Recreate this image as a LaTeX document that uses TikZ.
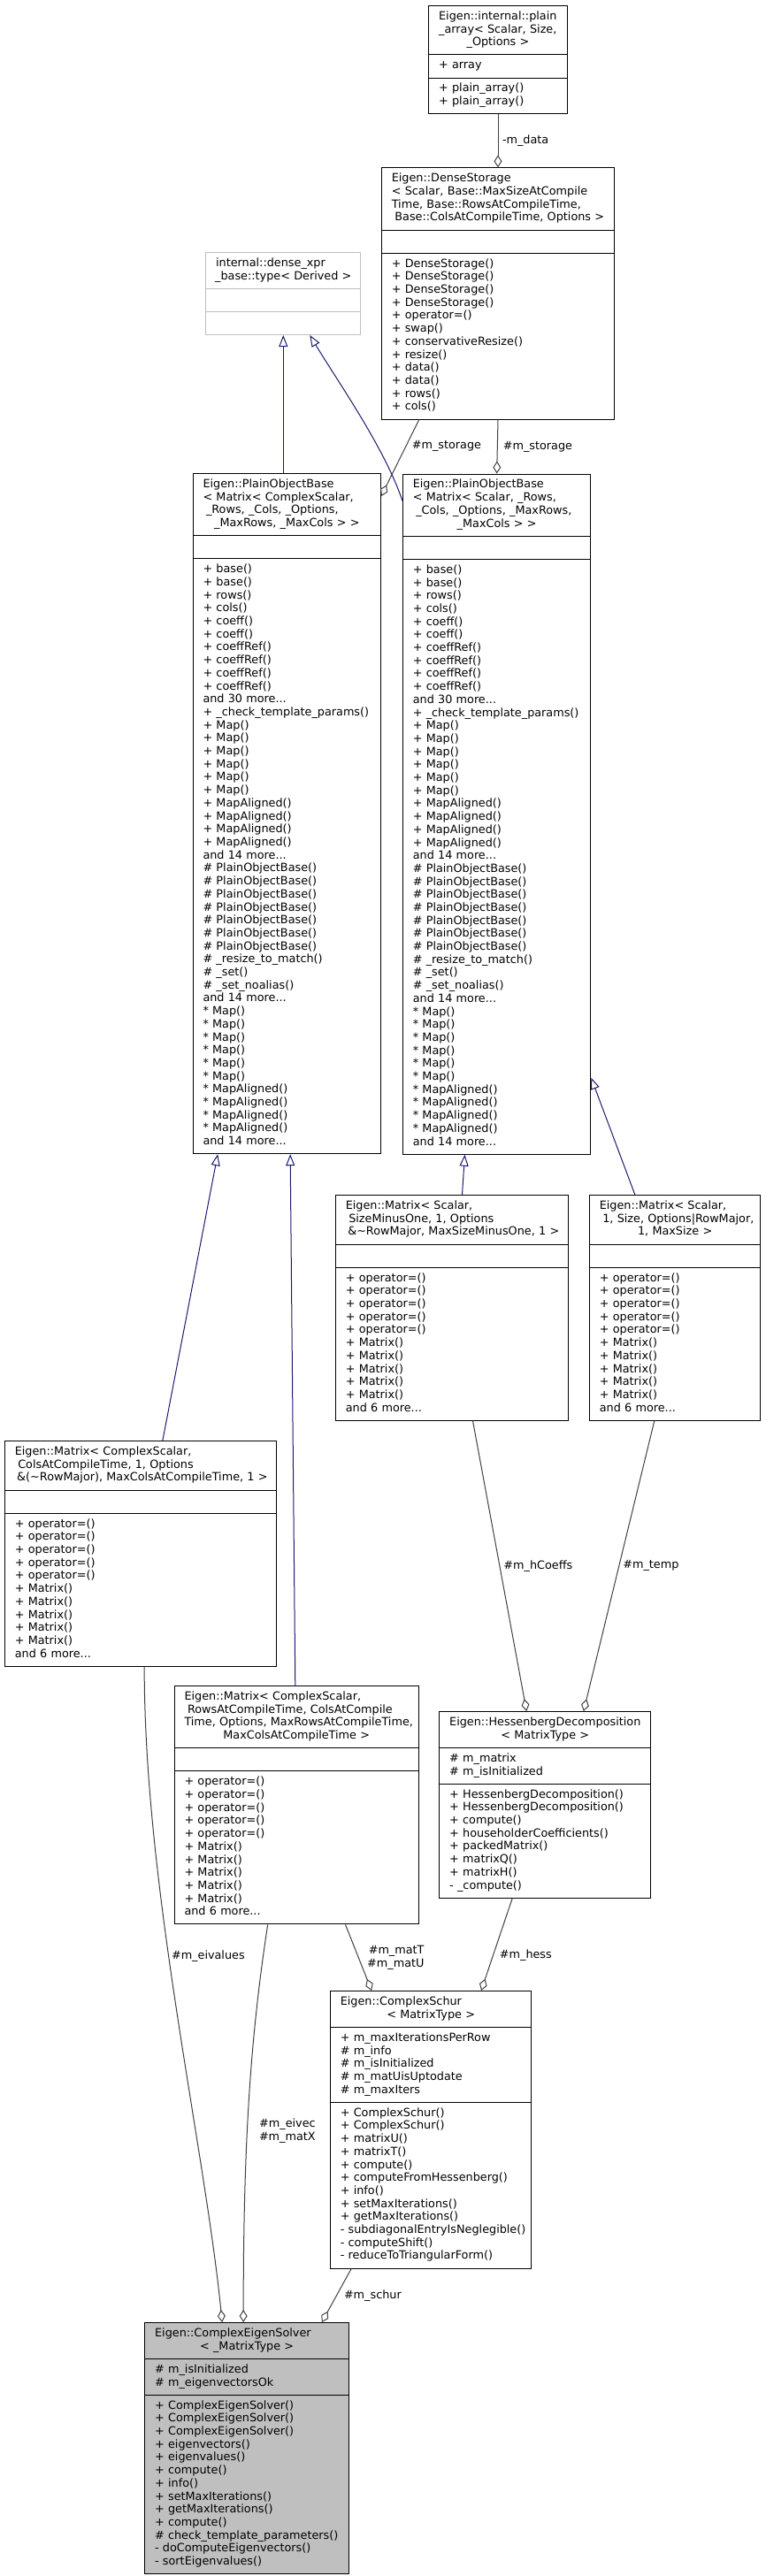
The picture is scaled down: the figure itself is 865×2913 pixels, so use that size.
\documentclass[tikz,border=0pt]{standalone}
\usepackage{fontspec}
\setmainfont{DejaVu Sans}
\usetikzlibrary{arrows.meta,shapes.multipart}

\definecolor{edgegrey}{HTML}{404040}
\definecolor{inhblue}{HTML}{191970}
\definecolor{extgrey}{HTML}{BFBFBF}

% last title line is centred, the others stay left
\newcommand\ctr[1]{\makebox[\linewidth]{#1}}

\newcommand\pobmembers{%
+ base()\\+ base()\\+ rows()\\+ cols()\\+ coeff()\\+ coeff()\\%
+ coeffRef()\\+ coeffRef()\\+ coeffRef()\\+ coeffRef()\\and 30 more...\\%
+ \_check\_template\_params()\\%
+ Map()\\+ Map()\\+ Map()\\+ Map()\\+ Map()\\+ Map()\\%
+ MapAligned()\\+ MapAligned()\\+ MapAligned()\\+ MapAligned()\\and 14 more...\\%
\# PlainObjectBase()\\\# PlainObjectBase()\\\# PlainObjectBase()\\\# PlainObjectBase()\\%
\# PlainObjectBase()\\\# PlainObjectBase()\\\# PlainObjectBase()\\%
\# \_resize\_to\_match()\\\# \_set()\\\# \_set\_noalias()\\and 14 more...\\%
{}* Map()\\{}* Map()\\{}* Map()\\{}* Map()\\{}* Map()\\{}* Map()\\%
{}* MapAligned()\\{}* MapAligned()\\{}* MapAligned()\\{}* MapAligned()\\and 14 more...}

\newcommand\matmembers{%
+ operator=()\\+ operator=()\\+ operator=()\\+ operator=()\\+ operator=()\\%
+ Matrix()\\+ Matrix()\\+ Matrix()\\+ Matrix()\\+ Matrix()\\and 6 more...}

\begin{document}
\begin{tikzpicture}[x=1pt, y=-1pt,
    every node/.append style={font=\fontsize{12.8}{14.7}\selectfont},
    cls/.style={draw, line width=1pt, rectangle split, rectangle split parts=3,
      anchor=north west, inner xsep=11.3pt, inner ysep=5.2pt,
      execute at begin node={\rightskip=-30pt\relax\strut},
      execute at end node={\strut}},
    lbl/.style={inner sep=0pt, align=right, text=black},
    aggr/.style={edgegrey, line width=1pt, -{Diamond[open, length=14pt, width=9pt]}},
    inh/.style={inhblue, line width=1pt, -{Triangle[open, length=13pt, width=10pt]}}]
\useasboundingbox (0,0) rectangle (865,2913);

% classes
\node[cls, text width=133.8pt] (plainarr) at (484.3,5.9)
  {Eigen::internal::plain\\\_array< Scalar, Size,\\\ctr{\_Options >}%
   \nodepart{second}+ array%
   \nodepart{third}+ plain\_array()\\+ plain\_array()};
\node[cls, text width=240.4pt] (dstor) at (431,189.4)
  {Eigen::DenseStorage\\< Scalar, Base::MaxSizeAtCompile\\Time, Base::RowsAtCompileTime,\\\ctr{\hspace*{3.5pt}Base::ColsAtCompileTime, Options >}%
   \nodepart{second}%
   \nodepart{third}+ DenseStorage()\\+ DenseStorage()\\+ DenseStorage()\\+ DenseStorage()\\+ operator=()\\+ swap()\\+ conservativeResize()\\+ resize()\\+ data()\\+ data()\\+ rows()\\+ cols()};
\node[cls, draw=extgrey, text width=152.4pt] (densexpr) at (232.3,285)
  {internal::dense\_xpr\\\ctr{\_base::type< Derived >}%
   \nodepart{second}%
   \nodepart{third}};
\node[cls, text width=189.7pt] (pobC) at (217.7,535)
  {Eigen::PlainObjectBase\\< Matrix< ComplexScalar,\\\hspace*{3.5pt}\_Rows, \_Cols, \_Options,\\\ctr{\_MaxRows, \_MaxCols > >}%
   \nodepart{second}%
   \nodepart{third}\pobmembers};
\node[cls, text width=189.7pt] (pobS) at (455,535.5)
  {Eigen::PlainObjectBase\\< Matrix< Scalar, \_Rows,\\\hspace*{3.5pt}\_Cols, \_Options, \_MaxRows,\\\ctr{\_MaxCols > >}%
   \nodepart{second}%
   \nodepart{third}\pobmembers};
\node[cls, text width=240.4pt] (matSM) at (379,1351)
  {Eigen::Matrix< Scalar,\\\hspace*{3.5pt}SizeMinusOne, 1, Options\\\ctr{\hspace*{3.5pt}\&\textasciitilde RowMajor, MaxSizeMinusOne, 1 >}%
   \nodepart{second}%
   \nodepart{third}\matmembers};
\node[cls, text width=170.7pt] (matS1) at (666,1351)
  {Eigen::Matrix< Scalar,\\\hspace*{3.5pt}1, Size, Options|RowMajor,\\\ctr{1, MaxSize >}%
   \nodepart{second}%
   \nodepart{third}\matmembers};
\node[cls, text width=284.7pt] (matCC) at (5,1629)
  {Eigen::Matrix< ComplexScalar,\\\hspace*{3.5pt}ColsAtCompileTime, 1, Options\\\ctr{\hspace*{3.5pt}\&(\textasciitilde RowMajor), MaxColsAtCompileTime, 1 >}%
   \nodepart{second}%
   \nodepart{third}\matmembers};
\node[cls, text width=253.4pt] (matCR) at (196.7,1906)
  {Eigen::Matrix< ComplexScalar,\\\hspace*{3.5pt}RowsAtCompileTime, ColsAtCompile\\Time, Options, MaxRowsAtCompileTime,\\\ctr{MaxColsAtCompileTime >}%
   \nodepart{second}%
   \nodepart{third}\matmembers};
\node[cls, text width=216.2pt] (hess) at (496.4,1935)
  {Eigen::HessenbergDecomposition\\\ctr{< MatrixType >}%
   \nodepart{second}\# m\_matrix\\\# m\_isInitialized%
   \nodepart{third}+ HessenbergDecomposition()\\+ HessenbergDecomposition()\\+ compute()\\+ householderCoefficients()\\+ packedMatrix()\\+ matrixQ()\\+ matrixH()\\- \_compute()};
\node[cls, text width=204.7pt] (schur) at (373,2251)
  {Eigen::ComplexSchur\\\ctr{< MatrixType >}%
   \nodepart{second}+ m\_maxIterationsPerRow\\\# m\_info\\\# m\_isInitialized\\\# m\_matUisUptodate\\\# m\_maxIters%
   \nodepart{third}+ ComplexSchur()\\+ ComplexSchur()\\+ matrixU()\\+ matrixT()\\+ compute()\\+ computeFromHessenberg()\\+ info()\\+ setMaxIterations()\\+ getMaxIterations()\\- subdiagonalEntryIsNeglegible()\\- computeShift()\\- reduceToTriangularForm()};
\node[cls, fill=extgrey, text width=208.1pt] (ces) at (163.3,2626)
  {Eigen::ComplexEigenSolver\\\ctr{< \_MatrixType >}%
   \nodepart{second}\# m\_isInitialized\\\# m\_eigenvectorsOk%
   \nodepart{third}+ ComplexEigenSolver()\\+ ComplexEigenSolver()\\+ ComplexEigenSolver()\\+ eigenvectors()\\+ eigenvalues()\\+ compute()\\+ info()\\+ setMaxIterations()\\+ getMaxIterations()\\+ compute()\\\# check\_template\_parameters()\\- doComputeEigenvectors()\\- sortEigenvalues()};

% inheritance
\draw[inh] (pobC.north -| densexpr.south) -- (densexpr.south);
\draw[inh] ([yshift=-31pt]pobS.north west) .. controls +(-20,-60) and +(30,50) .. ([xshift=30pt]densexpr.south);
\draw[inh] ([xshift=11.5pt]matSM.north) -- ([xshift=-36.2pt]pobS.south);
\draw[inh] ([xshift=-45.3pt]matS1.north) -- ([yshift=87pt]pobS.south east);
\draw[inh] ([xshift=24.7pt]matCC.north) -- ([xshift=-78.2pt]pobC.south);
\draw[inh] ([xshift=-1.4pt]matCR.north) -- ([xshift=3.8pt]pobC.south);

% members
\draw[aggr] (plainarr.south) -- (dstor.north)
  node[lbl, midway, anchor=west, xshift=4.5pt] (ldata) {-m\_data};
\draw[aggr] ([xshift=-89.2pt]dstor.south) -- ([yshift=-26pt]pobC.north east)
  node[lbl, pos=0.35, anchor=west, xshift=6.5pt] (lstorC) {\#m\_storage};
\draw[aggr] (dstor.south) -- (pobS.north)
  node[lbl, midway, anchor=west, xshift=6pt] (lstorS) {\#m\_storage};
\draw[aggr] ([xshift=23.5pt]matSM.south) -- ([xshift=-21pt]hess.north)
  node[lbl, midway, anchor=west, xshift=4pt] (lcoeffs) {\#m\_hCoeffs};
\draw[aggr] ([xshift=-23.35pt]matS1.south) -- ([xshift=43.5pt]hess.north)
  node[lbl, midway, anchor=west, xshift=4pt] (ltemp) {\#m\_temp};
\draw[aggr] ([xshift=55.3pt]matCR.south) -- ([xshift=-67pt]schur.north)
  node[lbl, midway, anchor=west, xshift=9.4pt] (lmat) {\#m\_matT\\\#m\_matU};
\draw[aggr] ([xshift=-37.1pt]hess.south) -- ([xshift=56.9pt]schur.north)
  node[lbl, pos=0.62, anchor=west, xshift=7pt] (lhess) {\#m\_hess};
\draw[aggr] ([xshift=4pt]matCC.south) .. controls +(0,250) and +(-20,-200) .. ([xshift=-28pt]ces.north)
  node[lbl, pos=0.42, anchor=west, xshift=3pt] (leival) {\#m\_eivalues};
\draw[aggr] ([xshift=-32.5pt]matCR.south) .. controls +(-20,130) and +(0,-200) .. ([xshift=-4pt]ces.north)
  node[lbl, pos=0.58, anchor=west, xshift=13pt] (leivec) {\#m\_eivec\\\#m\_matX};
\draw[aggr] ([xshift=-90pt]schur.south) -- ([xshift=84.7pt]ces.north)
  node[lbl, midway, anchor=west, xshift=8pt] (lschur) {\#m\_schur};
\end{tikzpicture}
\end{document}
